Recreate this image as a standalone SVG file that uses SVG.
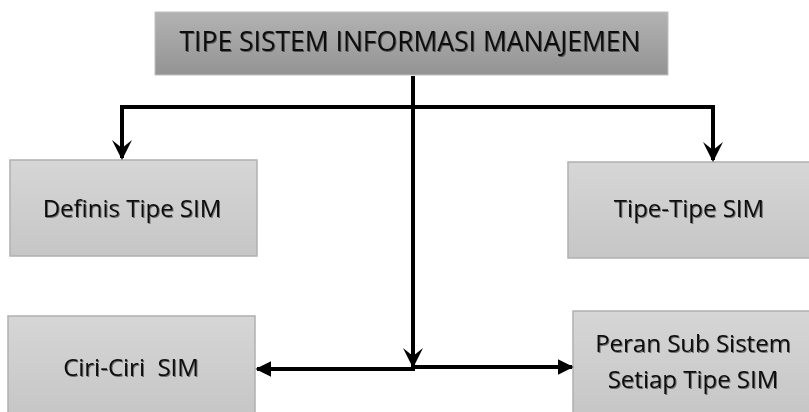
<svg xmlns="http://www.w3.org/2000/svg" width="809" height="412" viewBox="0 0 809 412">
<defs>
<linearGradient id="gTop" x1="0" y1="0" x2="0" y2="1"><stop offset="0" stop-color="#b3b3b3"/><stop offset="1" stop-color="#939393"/></linearGradient>
<linearGradient id="gBox" x1="0" y1="0" x2="0" y2="1"><stop offset="0" stop-color="#d6d6d6"/><stop offset="1" stop-color="#c6c6c6"/></linearGradient>
<filter id="sh" x="-5%" y="-20%" width="110%" height="140%"><feDropShadow dx="1" dy="1" stdDeviation="0.6" flood-color="#000" flood-opacity="0.45"/></filter>
<marker id="ah" viewBox="0 0 10 10" refX="9" refY="5" markerWidth="4" markerHeight="4" orient="auto" markerUnits="strokeWidth"><path d="M0,0 L10,5 L0,10 Z" fill="#000"/></marker>
<marker id="av" viewBox="0 0 10 10" refX="9" refY="5" markerWidth="5" markerHeight="5" orient="auto" markerUnits="strokeWidth"><path d="M0,0 L10,5 L0,10 L4,5 Z" fill="#000"/></marker>
</defs>
<style>
.box{fill:url(#gBox);stroke:#b0b0b0;stroke-width:1.5}
.t{font-family:"Open Sans","Noto Sans",sans-serif;fill:#111;text-anchor:middle;white-space:pre;filter:url(#sh)}
.c{fill:none;stroke:#000;stroke-width:4}
</style>
<g id="top">
<rect x="155" y="12" width="513" height="63" fill="url(#gTop)" stroke="#c0c0c0" stroke-width="1"/>
<text class="t" x="410" y="51" font-size="26.5">TIPE SISTEM INFORMASI MANAJEMEN</text>
</g>
<g id="definis">
<rect class="box" x="10" y="160" width="247" height="96"/>
<text class="t" x="132" y="217" font-size="24">Definis Tipe SIM</text>
</g>
<g id="tipe">
<rect class="box" x="568" y="162" width="245" height="96"/>
<text class="t" x="689" y="217" font-size="24">Tipe-Tipe SIM</text>
</g>
<g id="ciri">
<rect class="box" x="8" y="316" width="247" height="100"/>
<text class="t" x="131" y="376" font-size="24" xml:space="preserve">Ciri-Ciri  SIM</text>
</g>
<g id="peran">
<rect class="box" x="573" y="311" width="240" height="105"/>
<text class="t" x="693" y="352" font-size="24">Peran Sub Sistem</text>
<text class="t" x="693" y="388" font-size="24">Setiap Tipe SIM</text>
</g>
<g id="connectors">
<line class="c" x1="120" y1="107" x2="715" y2="107"/>
<line class="c" x1="122" y1="105" x2="122" y2="158" marker-end="url(#av)"/>
<line class="c" x1="713" y1="105" x2="713" y2="160" marker-end="url(#av)"/>
<line class="c" x1="413" y1="76" x2="413" y2="366" marker-end="url(#av)"/>
<line class="c" x1="415" y1="369" x2="257" y2="369" marker-end="url(#ah)"/>
<line class="c" x1="411" y1="367" x2="572" y2="367" marker-end="url(#ah)"/>
</g>
</svg>
